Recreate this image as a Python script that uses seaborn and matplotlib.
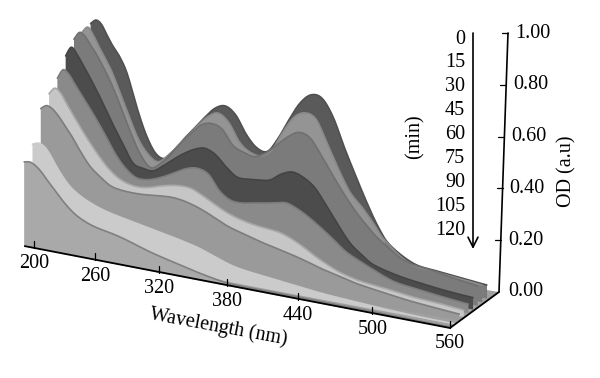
import numpy as np
import matplotlib
matplotlib.use('Agg')
import matplotlib.pyplot as plt
import seaborn as sns

sns.set_style('white')
plt.rcParams['font.family'] = ['Liberation Serif', 'DejaVu Serif']
plt.rcParams['text.color'] = 'black'

wavelengths = [190, 196, 202, 208, 214, 222, 230, 240, 250, 260, 270, 280, 290, 300, 310, 320, 330, 340,
               350, 360, 370, 380, 390, 400, 410, 420, 430, 440, 450, 460, 470, 480, 500, 520, 540, 560]
od_0 = [.779, .797, .785, .748, .712, .672, .612, .492, .390, .325, .313, .358, .408, .455, .503, .545, .560, .532,
        .465, .421, .415, .474, .553, .625, .665, .660, .595, .485, .383, .285, .198, .138, .084, .071, .061, .052]
od_15 = [.757, .780, .754, .714, .678, .626, .557, .468, .384, .333, .311, .343, .387, .434, .483, .525, .544, .514,
         .447, .416, .410, .440, .517, .582, .608, .592, .506, .414, .333, .285, .230, .171, .100, .086, .076, .066]
od_30 = [.739, .770, .759, .729, .699, .650, .595, .510, .420, .342, .300, .323, .367, .416, .462, .503, .516, .501,
         .447, .428, .419, .441, .479, .519, .545, .532, .472, .403, .337, .278, .229, .187, .125, .107, .091, .076]
od_45 = [.685, .723, .701, .666, .631, .580, .525, .453, .386, .321, .308, .306, .333, .366, .396, .420, .432, .415,
         .375, .344, .344, .349, .357, .388, .404, .390, .357, .294, .229, .169, .132, .102, .078, .064, .053, .046]
od_60 = [.609, .646, .634, .602, .571, .528, .484, .424, .360, .313, .285, .283, .295, .314, .337, .358, .366, .350,
         .295, .267, .264, .272, .280, .289, .297, .281, .256, .225, .191, .154, .130, .109, .071, .057, .045, .035]
od_75 = [.559, .585, .571, .536, .501, .456, .412, .362, .318, .287, .271, .266, .272, .285, .296, .302, .300, .282,
         .260, .238, .222, .211, .204, .200, .194, .178, .155, .128, .105, .085, .072, .063, .053, .041, .035, .026]
od_90 = [.512, .528, .520, .498, .469, .428, .380, .327, .294, .267, .258, .256, .257, .261, .266, .268, .263, .252,
         .236, .216, .197, .184, .172, .160, .150, .140, .129, .116, .102, .091, .080, .069, .055, .042, .033, .025]
od_105 = [.384, .393, .385, .358, .320, .276, .243, .217, .199, .185, .175, .167, .159, .152, .144, .136, .128, .119,
          .108, .093, .077, .064, .056, .051, .046, .041, .036, .031, .026, .022, .019, .016, .010, .006, .003, .002]
od_120 = [.326, .330, .319, .298, .270, .235, .200, .165, .143, .129, .121, .113, .102, .089, .076, .065, .055, .045,
          .035, .026, .018, .012, .010, .010, .010, .010, .010, .010, .010, .009, .009, .009, .008, .007, .005, .004]
series = [od_0, od_15, od_30, od_45, od_60, od_75, od_90, od_105, od_120]
time_labels = ['0', '15', '30', '45', '60', '75', '90', '105', '120']
wave_ticks = [200, 260, 320, 380, 440, 500, 560]
od_ticks = [0.2, 0.4, 0.6, 0.8, 1.0]
colors = ['#5a5a5a', '#949494', '#7b7b7b', '#4c4c4c', '#8a8a8a', '#c6c6c6', '#9a9a9a', '#cbcbcb', '#a9a9a9']
edges = ['#505050', '#8a8a8a', '#707070', '#444444', '#7c7c7c', '#a8a8a8', '#7d7d7d', '#cbcbcb', '#808080']


# oblique view of the wavelength / time / OD box, gives pixel positions
def project(w, depth, od=0.0):
    u = (np.asarray(w, float) - 200) / 360
    x = 34 + 356*u + 60*u**2 + depth*(8.2 - 3.6*u)
    y = 248 + 72*u + 8*u**2 - depth*(2.7 + 1.0*u) - 258*np.asarray(od)
    return x, y


def od_axis(od):
    return 499 + 9*od, 292 - 259*od


# smooth the drawn line through the read values (Catmull-Rom)
def smooth(x, y, n=8):
    p = np.column_stack([x, y])
    p = np.vstack([p[0], p, p[-1]])
    out = []
    for i in range(1, len(p) - 2):
        for s in np.linspace(0, 1, n, endpoint=False):
            out.append(0.5*(2*p[i] + (p[i+1] - p[i-1])*s + (2*p[i-1] - 5*p[i] + 4*p[i+1] - p[i+2])*s**2
                            + (3*p[i] - p[i-1] - 3*p[i+1] + p[i+2])*s**3))
    out.append(p[-2])
    return np.array(out).T


fig = plt.figure(figsize=(6, 3.78), dpi=100)
ax = fig.add_axes([0, 0, 1, 1])

# floor of the box
fx0, fy0 = project(190, 0)
fx1, fy1 = project(560, 0)
ax.fill([fx0, fx1, 499, 96], [fy0, fy1, 292, 226], color='#a0a0a0', lw=0)

for i, od in enumerate(series):
    depth = 8 - i
    x, top = smooth(*project(wavelengths, depth, od))
    bx, base = smooth(*project(wavelengths, depth))
    ax.fill(np.r_[x, bx[::-1]], np.r_[top, base[::-1]], color=colors[i], lw=0)
    sns.lineplot(x=x, y=top, color=edges[i], sort=False, estimator=None, lw=1.2, ax=ax)
    # the two back curves take the tone of the 30 min band along the tail
    if i < 2:
        tail = x >= project(480, depth)[0]
        ax.fill(np.r_[x[tail], bx[tail][::-1]], np.r_[top[tail], base[tail][::-1]], color=colors[2], lw=0)

# wavelength axis
wx, wy = project(np.array([190, 560]), 0)
ax.plot(wx, wy, color='black', lw=1.3, solid_capstyle='butt')
for w in wave_ticks:
    tx, ty = project(w, 0)
    ax.plot([tx, tx], [ty, ty - 7], color='black', lw=0.9)
    ax.text(tx, ty + 16, str(w), ha='center', va='center', fontsize=14.5)
ax.text(218, 327, 'Wavelength (nm)', rotation=-10.5, ha='center', va='center', fontsize=14.5)

# depth edge and OD axis
ax.plot([wx[1], 499], [wy[1], 292], color='black', lw=1.3)
ax.plot(*zip(od_axis(0), od_axis(1)), color='black', lw=1.2)
ax.text(od_axis(0)[0] + 9, od_axis(0)[1], '0.00', ha='left', va='center', fontsize=14.5)
for v in od_ticks:
    tx, ty = od_axis(v)
    ax.plot([tx - 6, tx], [ty, ty], color='black', lw=0.9)
    ax.text(tx + 7, ty, f'{v:.2f}', ha='left', va='center', fontsize=14.5)
ax.text(567, 171, 'OD (a.u)', rotation=90, ha='center', va='center', fontsize=14.5)

# time labels and arrow
for i, lab in enumerate(time_labels):
    ax.text(465, 39 + 23.9*i, lab, ha='right', va='center', fontsize=14.5)
ax.annotate('', xy=(473, 249), xytext=(473, 33),
            arrowprops=dict(arrowstyle='->', color='black', lw=1.2, mutation_scale=18, shrinkA=0, shrinkB=0))
ax.text(415, 137, '(min)', rotation=90, ha='center', va='center', fontsize=14.5)

ax.set_xlim(0, 600)
ax.set_ylim(378, 0)
ax.axis('off')
fig.savefig('out.png', dpi=100)
